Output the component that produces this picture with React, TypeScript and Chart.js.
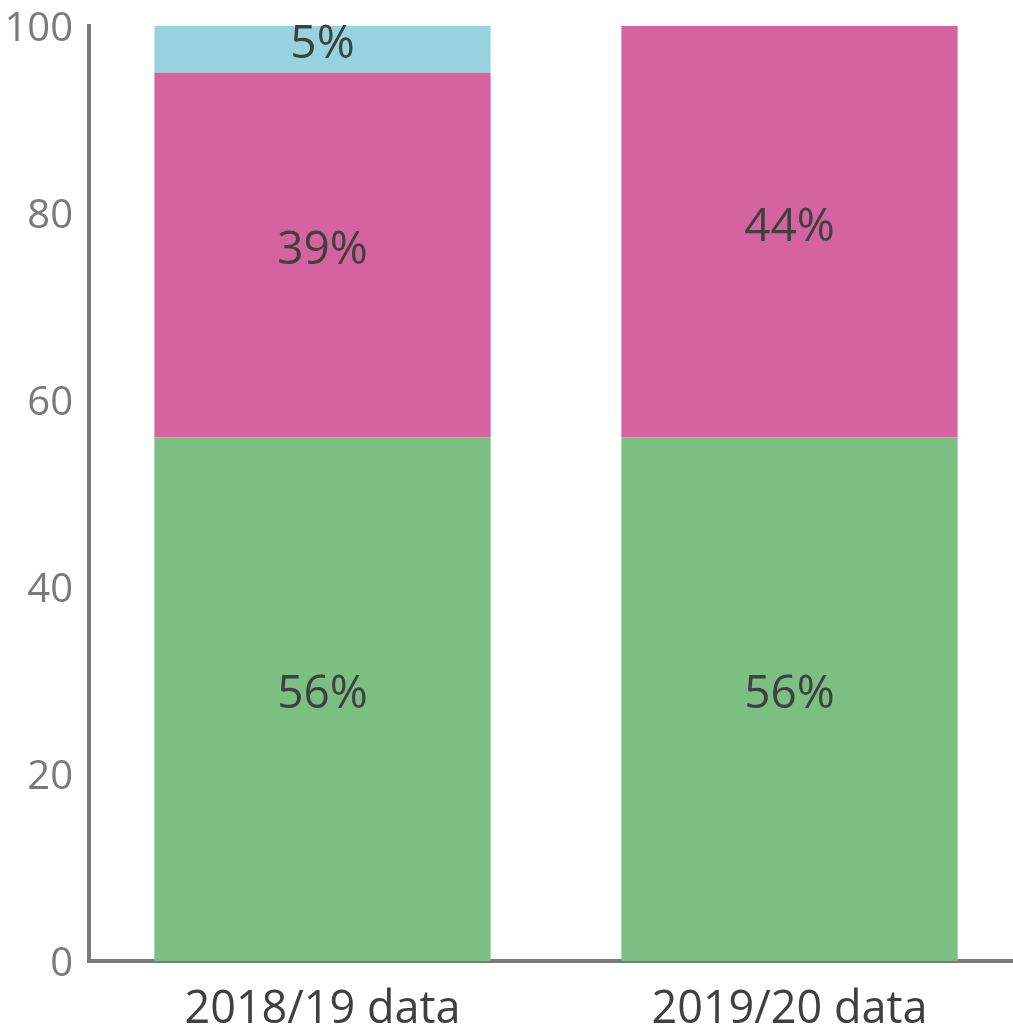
import React, { useEffect, useRef } from "react";
import { Chart, registerables } from "chart.js";

Chart.register(...registerables);

const categories = ["2018/19 data", "2019/20 data"];
const greenValues = [56, 56];
const pinkValues = [39, 44];
const blueValues = [5, 0];
const yTicks = [0, 20, 40, 60, 80, 100];

const FONT = "'Open Sans', 'Noto Sans', sans-serif";
const SHIFT = 14;

const valueLabels = {
  id: "valueLabels",
  afterDatasetsDraw(chart: any) {
    const ctx = chart.ctx;
    ctx.save();
    ctx.font = `46px ${FONT}`;
    ctx.fillStyle = "#404040";
    ctx.textAlign = "center";
    ctx.textBaseline = "middle";
    chart.data.datasets.forEach((ds: any, di: number) => {
      const meta = chart.getDatasetMeta(di);
      meta.data.forEach((el: any, i: number) => {
        const v = ds.data[i];
        if (!v) return;
        const { x, y, base } = el.getProps(["x", "y", "base"], true);
        ctx.fillText(`${v}%`, x, (y + base) / 2 - 4);
      });
    });
    ctx.restore();
  },
};

export default function App() {
  const ref = useRef<HTMLCanvasElement | null>(null);
  useEffect(() => {
    if (!ref.current) return;
    const chart = new Chart(ref.current, {
      type: "bar",
      data: {
        labels: categories,
        datasets: [
          { data: greenValues, backgroundColor: "#7BBF82", barPercentage: 0.72, categoryPercentage: 1 },
          { data: pinkValues, backgroundColor: "#D4639F", barPercentage: 0.72, categoryPercentage: 1 },
          { data: blueValues, backgroundColor: "#97D3DF", barPercentage: 0.72, categoryPercentage: 1 },
        ],
      },
      options: {
        responsive: false,
        animation: false,
        layout: { padding: { top: 12, right: 17, left: 0, bottom: 0 } },
        plugins: { legend: { display: false }, tooltip: { enabled: false } },
        scales: {
          x: {
            stacked: true,
            grid: { display: false, drawTicks: false },
            border: { display: true, color: "#7a7a7a", width: 4 },
            ticks: { color: "#404040", font: { family: FONT, size: 45 }, padding: 22 },
            afterFit: (s: any) => { s.height = 1035 - 961; },
          },
          y: {
            stacked: true,
            min: 0,
            max: 100,
            afterBuildTicks: (s: any) => { s.ticks = yTicks.map((v) => ({ value: v })); },
            grid: { display: false, drawTicks: false },
            border: { display: true, color: "#7a7a7a", width: 4 },
            ticks: { color: "#7a7a7a", font: { family: FONT, size: 40 }, padding: 16, labelOffset: 4 },
            afterFit: (s: any) => { s.width = 89; },
          },
        },
      },
      plugins: [valueLabels],
    });
    return () => chart.destroy();
  }, []);
  return (
    <div style={{ position: "fixed", left: 0, top: 0, width: 1013, height: 1035, overflow: "hidden", background: "#fff" }}>
      <canvas ref={ref} width={1040} height={1035 + SHIFT} style={{ display: "block", marginTop: -SHIFT }} />
    </div>
  );
}
